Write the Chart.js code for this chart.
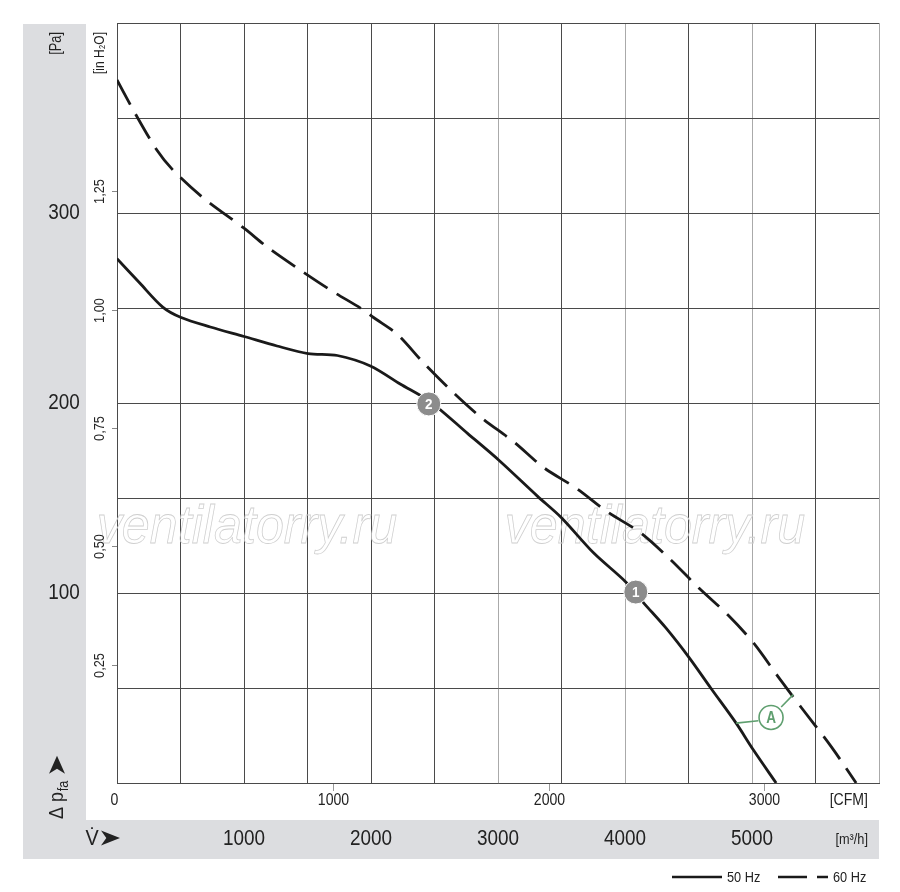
<!DOCTYPE html>
<html>
<head>
<meta charset="utf-8">
<script src="https://cdn.jsdelivr.net/npm/chart.js@4.4.1/dist/chart.umd.min.js"></script>
<style>
  body { margin: 0; background: #fff; }
  canvas { display: block; }
</style>
</head>
<body>
<canvas id="fanChart" width="900" height="892"></canvas>
<script>
// curve data, flow in m3/h, pressure in Pa
const flow50 = [0, 181, 360, 505, 735, 1000, 1260, 1505, 1735, 1995, 2230, 2470, 2760, 3005, 3310, 3494, 3754, 4006, 4148, 4322, 4505, 4675, 4875, 5010, 5190];
const pres50 = [276, 263, 250.5, 245, 240, 235, 230, 226, 225, 219.5, 210, 200.5, 184, 170, 151, 140, 121, 105.8, 94.7, 81.6, 66, 50, 31.5, 17.5, 0];

const flow60 = [0, 142, 315, 442, 678, 1000, 1185, 1420, 1680, 1940, 2020, 2210, 2415, 2640, 2865, 3125, 3360, 3612, 3864, 4125, 4361, 4582, 4811, 5015, 5205, 5385, 5625, 5820];
const pres60 = [370, 352.5, 333, 322.5, 308, 292, 282, 271, 259.5, 249, 245, 236, 221, 206, 192.5, 179.5, 166, 155.3, 142.6, 131.6, 117.4, 102.6, 88.4, 73.5, 56, 40, 19, 0];

// operating points "2" and "1"
const pointFlow = [2455, 4085];
const pointPres = [199.5, 100.5];
const pointLabels = ["2", "1"];

// "A" badge and its two leader lines
const badgeFlow = [5150];
const badgePres = [34.5];
const leader1Flow = [4875, 5050];
const leader1Pres = [31.5, 32.8];
const leader2Flow = [5230, 5325];
const leader2Pres = [40, 46.5];

// tick labels
const paTicks = [100, 200, 300];
const inH2OTicks = [0.25, 0.5, 0.75, 1.0, 1.25];
const cfmTicks = [0, 1000, 2000, 3000];
const m3hTicks = [1000, 2000, 3000, 4000, 5000];

const PA_PER_INH2O = 249.089;
const M3H_PER_CFM = 1.699;
const FONT = "'Liberation Sans', Arial, sans-serif";
const GREEN = "#5f9f6f";

function pts(xs, ys) {
  return xs.map((x, i) => ({ x: x, y: ys[i] }));
}

// condensed text helper (the original uses a narrow font)
function txt(ctx, s, x, y, size, o) {
  o = o || {};
  ctx.save();
  ctx.translate(x, y);
  if (o.rot) ctx.rotate(o.rot);
  ctx.scale(o.sx || 0.85, 1);
  ctx.font = (o.style || "") + " " + size + "px " + FONT;
  ctx.textAlign = o.align || "center";
  ctx.textBaseline = o.base || "middle";
  ctx.fillStyle = o.color || "#222";
  ctx.fillText(s, 0, 0);
  ctx.restore();
}

function arrowHead(ctx, len, h) {
  ctx.beginPath();
  ctx.moveTo(0, -h / 2);
  ctx.lineTo(len, 0);
  ctx.lineTo(0, h / 2);
  ctx.lineTo(len * 0.28, 0);
  ctx.closePath();
  ctx.fill();
}

const framePlugin = {
  id: "frame",
  beforeDraw(chart) {
    const ctx = chart.ctx;
    const a = chart.chartArea;
    ctx.save();
    ctx.fillStyle = "#dcdde0";
    ctx.fillRect(23, 24, 63, 835);
    ctx.fillRect(23, 820, a.right - 23, 39);
    ctx.restore();
  },
  beforeDatasetsDraw(chart) {
    // watermark, outline only
    const ctx = chart.ctx;
    ctx.save();
    ctx.font = "italic 54px " + FONT;
    ctx.textAlign = "center";
    ctx.textBaseline = "alphabetic";
    ctx.strokeStyle = "#cfcfcf";
    ctx.lineWidth = 0.8;
    [247, 655].forEach((cx) => {
      ctx.save();
      ctx.translate(cx, 543);
      ctx.scale(0.93, 1);
      ctx.strokeText("ventilatorry.ru", 0, 0);
      ctx.restore();
    });
    ctx.restore();
  },
  afterDatasetsDraw(chart) {
    const ctx = chart.ctx;
    // labels inside the round markers
    chart.getDatasetMeta(2).data.forEach((el, i) => {
      txt(ctx, pointLabels[i], el.x, el.y + 1, 15, { style: "bold", color: "#fff", sx: 0.9 });
    });
    chart.getDatasetMeta(3).data.forEach((el) => {
      txt(ctx, "A", el.x, el.y + 1, 17, { style: "bold", color: GREEN, sx: 0.8 });
    });
  },
  afterDraw(chart) {
    const ctx = chart.ctx;
    const xs = chart.scales.x;
    const ys = chart.scales.y;
    const a = chart.chartArea;

    // Pa axis
    paTicks.forEach((v) => txt(ctx, String(v), 64, ys.getPixelForValue(v), 22, { sx: 0.86 }));
    txt(ctx, "[Pa]", 57, 32, 16, { rot: -Math.PI / 2, align: "right", sx: 0.8 });

    // in H2O axis
    txt(ctx, "[in H\u2082O]", 100, 32, 15, { rot: -Math.PI / 2, align: "right", sx: 0.8 });
    ctx.save();
    ctx.strokeStyle = "#888";
    ctx.lineWidth = 1;
    inH2OTicks.forEach((v) => {
      const y = Math.round(ys.getPixelForValue(v * PA_PER_INH2O)) + 0.5;
      ctx.beginPath();
      ctx.moveTo(112, y);
      ctx.lineTo(a.left, y);
      ctx.stroke();
      txt(ctx, v.toFixed(2).replace(".", ","), 100, y, 15, { rot: -Math.PI / 2, sx: 0.85 });
    });
    ctx.restore();

    // delta p_fa title with arrow
    ctx.save();
    ctx.translate(57, 819);
    ctx.rotate(-Math.PI / 2);
    ctx.fillStyle = "#222";
    ctx.textBaseline = "middle";
    ctx.textAlign = "left";
    ctx.save();
    ctx.scale(0.85, 1);
    ctx.font = "21px " + FONT;
    ctx.fillText("\u0394 p", 0, 0);
    let w = ctx.measureText("\u0394 p").width;
    ctx.font = "15px " + FONT;
    ctx.fillText("fa", w + 1, 7);
    w += ctx.measureText("fa").width + 1;
    ctx.restore();
    ctx.translate(w * 0.85 + 7, 0);
    arrowHead(ctx, 18, 16);
    ctx.restore();

    // CFM axis under the plot
    ctx.save();
    ctx.strokeStyle = "#999";
    cfmTicks.forEach((v) => {
      const x = Math.round(xs.getPixelForValue(v * M3H_PER_CFM)) + 0.5;
      if (v > 0) {
        ctx.beginPath();
        ctx.moveTo(x, a.bottom + 1);
        ctx.lineTo(x, a.bottom + 8);
        ctx.stroke();
      }
      txt(ctx, String(v), x - (v === 0 ? 3 : 0), 801, 16, { sx: 0.88 });
    });
    ctx.restore();
    txt(ctx, "[CFM]", 868, 801, 16, { align: "right", sx: 0.88 });

    // m3/h axis in the grey strip
    m3hTicks.forEach((v) => txt(ctx, String(v), xs.getPixelForValue(v), 839, 22, { sx: 0.86 }));
    txt(ctx, "[m\u00b3/h]", 868, 840, 15, { align: "right", sx: 0.85 });
    txt(ctx, "V\u0307", 92, 839, 22, { sx: 0.9 });
    ctx.save();
    ctx.fillStyle = "#222";
    ctx.translate(101, 838);
    arrowHead(ctx, 19, 15);
    ctx.restore();

    // legend
    ctx.save();
    ctx.strokeStyle = "#1a1a1a";
    ctx.lineWidth = 2.5;
    ctx.beginPath();
    ctx.moveTo(672, 877);
    ctx.lineTo(722, 877);
    ctx.stroke();
    ctx.setLineDash([29, 10, 11, 100]);
    ctx.beginPath();
    ctx.moveTo(778, 877);
    ctx.lineTo(828, 877);
    ctx.stroke();
    ctx.restore();
    txt(ctx, "50 Hz", 727, 878, 15, { align: "left", sx: 0.85 });
    txt(ctx, "60 Hz", 833, 878, 15, { align: "left", sx: 0.85 });
  }
};

const ctx = document.getElementById("fanChart").getContext("2d");

new Chart(ctx, {
  type: "scatter",
  data: {
    datasets: [
      {
        label: "50 Hz",
        data: pts(flow50, pres50),
        showLine: true,
        borderColor: "#1a1a1a",
        borderWidth: 2.8,
        pointRadius: 0,
        tension: 0.3,
        order: 2,
      },
      {
        label: "60 Hz",
        data: pts(flow60, pres60),
        showLine: true,
        borderColor: "#1a1a1a",
        borderWidth: 2.8,
        borderDash: [28, 11],
        pointRadius: 0,
        tension: 0.3,
        order: 2,
      },
      {
        label: "points",
        data: pts(pointFlow, pointPres),
        pointRadius: 12,
        pointBackgroundColor: "#8c8c8c",
        pointBorderColor: "#ffffff",
        pointBorderWidth: 1,
        order: 0,
      },
      {
        label: "A",
        data: pts(badgeFlow, badgePres),
        pointRadius: 12,
        pointBackgroundColor: "#ffffff",
        pointBorderColor: GREEN,
        pointBorderWidth: 1.6,
        order: 0,
      },
      {
        label: "leader1",
        data: pts(leader1Flow, leader1Pres),
        showLine: true,
        borderColor: GREEN,
        borderWidth: 1.6,
        pointRadius: 0,
        order: 1,
      },
      {
        label: "leader2",
        data: pts(leader2Flow, leader2Pres),
        showLine: true,
        borderColor: GREEN,
        borderWidth: 1.6,
        pointRadius: 0,
        order: 1,
      },
    ],
  },
  options: {
    responsive: false,
    animation: false,
    events: [],
    layout: { padding: { left: 117, right: 21, top: 23, bottom: 109 } },
    plugins: {
      legend: { display: false },
      tooltip: { enabled: false },
    },
    scales: {
      x: {
        type: "linear",
        min: 0,
        max: 6000,
        ticks: { display: false, stepSize: 500 },
        grid: {
          drawTicks: false,
          lineWidth: 1,
          color: (c) => (c.tick && c.tick.value >= 3000 && c.tick.value % 1000 === 0 ? "#aaaaaa" : "#4a4a4a"),
        },
        border: { color: "#4a4a4a", width: 1 },
        afterFit: (s) => { s.height = 0; },
      },
      y: {
        type: "linear",
        min: 0,
        max: 400,
        ticks: { display: false, stepSize: 50 },
        grid: { drawTicks: false, lineWidth: 1, color: "#4a4a4a" },
        border: { color: "#4a4a4a", width: 1 },
        afterFit: (s) => { s.width = 0; },
      },
    },
  },
  plugins: [framePlugin],
});
</script>
</body>
</html>
